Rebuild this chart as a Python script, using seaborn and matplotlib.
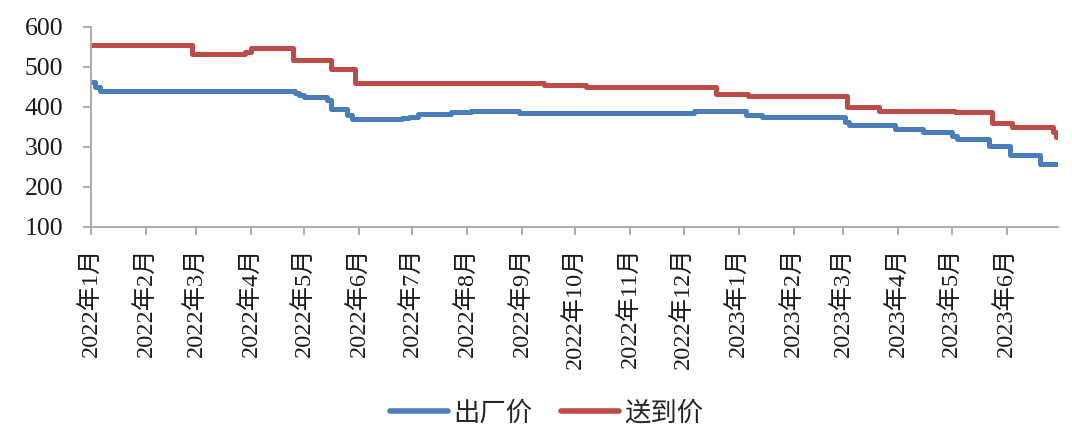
import numpy as np
import matplotlib
matplotlib.use('Agg')
import matplotlib.pyplot as plt
import seaborn as sns
import pandas as pd

# step change points
ex_dates = ['2022-01-01', '2022-01-03', '2022-01-06', '2022-04-26', '2022-04-28',
            '2022-05-01', '2022-05-14', '2022-05-16', '2022-05-25', '2022-05-28',
            '2022-06-25', '2022-06-29', '2022-07-04', '2022-07-23', '2022-08-03',
            '2022-08-30', '2022-11-15', '2022-12-07', '2023-01-05', '2023-01-14',
            '2023-03-02', '2023-03-04', '2023-03-30', '2023-04-15', '2023-05-01',
            '2023-05-04', '2023-05-22', '2023-06-03', '2023-06-20', '2023-06-30']
ex_price = [463, 450, 440, 436, 430,
            425, 418, 395, 380, 370,
            373, 376, 382, 387, 390,
            384, 386, 390, 380, 374,
            362, 354, 345, 337, 328,
            320, 301, 280, 257, 257]

del_dates = ['2022-01-01', '2022-02-27', '2022-03-29', '2022-04-01', '2022-04-25',
             '2022-05-16', '2022-05-30', '2022-09-13', '2022-10-07', '2022-12-19',
             '2023-01-06', '2023-03-03', '2023-03-21', '2023-05-03', '2023-05-24',
             '2023-06-04', '2023-06-27', '2023-06-29', '2023-06-30']
del_price = [555, 533, 538, 548, 518,
             495, 460, 455, 450, 433,
             428, 401, 391, 387, 359,
             351, 338, 325, 325]

series_names = ['出厂价', '送到价']
series_colors = ['#4A7EBB', '#BE4B48']


def main():
    df = pd.concat([
        pd.DataFrame({'date': pd.to_datetime(ex_dates), 'price': ex_price, 'kind': series_names[0]}),
        pd.DataFrame({'date': pd.to_datetime(del_dates), 'price': del_price, 'kind': series_names[1]}),
    ], ignore_index=True)

    sns.set_style('white')
    plt.rcParams['font.family'] = ['Liberation Serif', 'Noto Sans CJK SC', 'DejaVu Sans']

    fig = plt.figure(figsize=(10.72, 4.28), dpi=100)
    ax = fig.add_axes([0.085, 0.47, 0.902, 0.467])

    sns.lineplot(data=df, x='date', y='price', hue='kind', hue_order=series_names,
                 palette=series_colors, drawstyle='steps-post', linewidth=3.6,
                 legend=False, ax=ax)

    ax.set_xlim(pd.Timestamp('2022-01-01'), pd.Timestamp('2023-06-30'))
    ax.set_ylim(100, 600)
    ax.set_yticks(np.arange(100, 601, 100))

    ticks = pd.date_range('2022-01-01', '2023-06-01', freq='MS')
    ax.set_xticks(ticks)
    ax.set_xticklabels([f'{d.year}年{d.month}月' for d in ticks], rotation=90, fontsize=17.5,
                       va='top')
    for lab in ax.get_yticklabels():
        lab.set_fontsize(18.5)

    ax.set_xlabel('')
    ax.set_ylabel('')
    for side in ['top', 'right']:
        ax.spines[side].set_visible(False)
    for side in ['left', 'bottom']:
        ax.spines[side].set_color('#A6A6A6')
        ax.spines[side].set_linewidth(1.3)
    ax.tick_params(axis='both', direction='out', length=6, width=1.3, color='#A6A6A6',
                   labelcolor='#1A1A1A', bottom=True, left=True)
    ax.tick_params(axis='y', pad=20 - 6)
    ax.tick_params(axis='x', pad=9)

    handles = [plt.Line2D([], [], color=c, lw=4, solid_capstyle='round') for c in series_colors]
    fig.legend(handles, series_names, loc='center', bbox_to_anchor=(0.51, 0.035), ncol=2,
               frameon=False, fontsize=19, handlelength=2.2, handletextpad=0.2,
               columnspacing=1.1)

    fig.savefig('out.png', dpi=100)


if __name__ == '__main__':
    main()
